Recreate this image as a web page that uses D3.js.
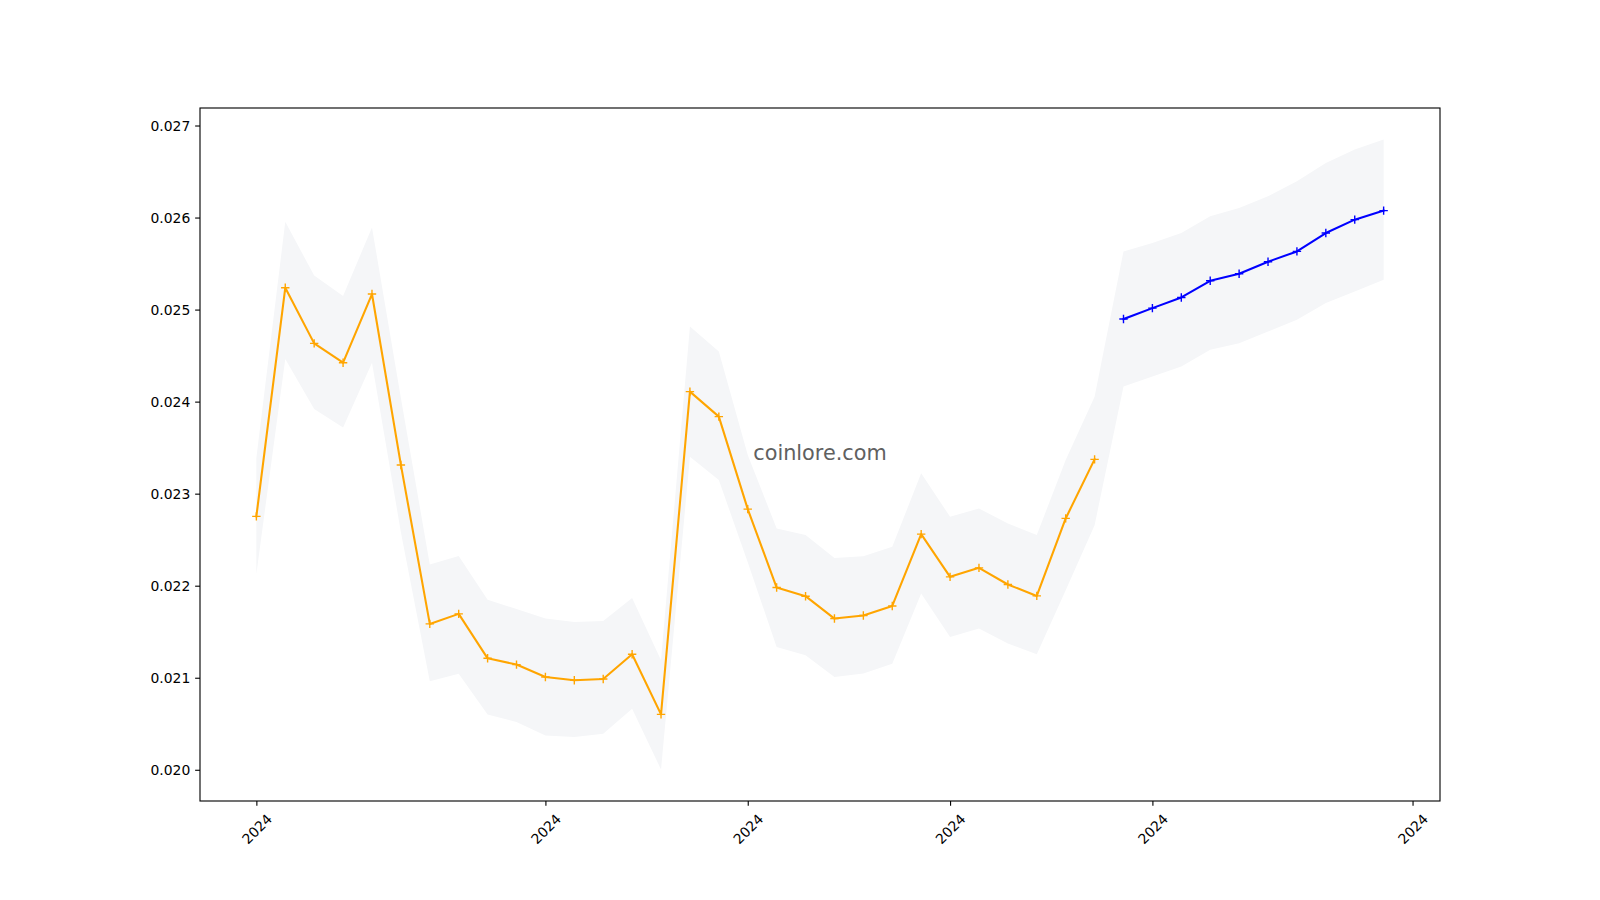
<!DOCTYPE html>
<html>
<head>
<meta charset="utf-8">
<script src="https://cdn.jsdelivr.net/npm/d3@7"></script>
<style>
  html, body { margin: 0; padding: 0; background: #ffffff; }
  svg { display: block; }
  text { font-family: "DejaVu Sans", sans-serif; }
</style>
</head>
<body>
<svg id="chart" width="1600" height="900"></svg>
<script>
// ---------- data ----------
const dates = [
  "2024-03-22","2024-03-23","2024-03-24","2024-03-25","2024-03-26","2024-03-27","2024-03-28","2024-03-29","2024-03-30","2024-03-31",
  "2024-04-01","2024-04-02","2024-04-03","2024-04-04","2024-04-05","2024-04-06","2024-04-07","2024-04-08","2024-04-09","2024-04-10",
  "2024-04-11","2024-04-12","2024-04-13","2024-04-14","2024-04-15","2024-04-16","2024-04-17","2024-04-18","2024-04-19","2024-04-20",
  "2024-04-21","2024-04-22","2024-04-23","2024-04-24","2024-04-25","2024-04-26","2024-04-27","2024-04-28","2024-04-29","2024-04-30"
];
// historical (orange) – first 30 dates
const history = [
  0.022753, 0.025237, 0.024633, 0.024423, 0.025169, 0.023312, 0.021585, 0.021694, 0.021211, 0.021143,
  0.021008, 0.020972, 0.020986, 0.021255, 0.020602, 0.024109, 0.023837, 0.022832, 0.021980, 0.021886,
  0.021643, 0.021676, 0.021780, 0.022560, 0.022096, 0.022194, 0.022013, 0.021889, 0.022731, 0.023373
];
// forecast (blue) – last 10 dates
const forecast = [
  0.024897, 0.025016, 0.025132, 0.025313, 0.025390, 0.025520, 0.025632, 0.025832, 0.025977, 0.026075
];
// confidence band over all 40 dates
const bandUpper = [
  0.023387, 0.025953, 0.025370, 0.025148, 0.025893, 0.024040, 0.022230, 0.022322, 0.021847, 0.021746,
  0.021643, 0.021606, 0.021617, 0.021867, 0.021189, 0.024816, 0.024544, 0.023420, 0.022622, 0.022550,
  0.022302, 0.022321, 0.022422, 0.023221, 0.022749, 0.022840, 0.022677, 0.022550, 0.023366, 0.024054,
  0.025632, 0.025724, 0.025832, 0.026013, 0.026104, 0.026231, 0.026394, 0.026594, 0.026739, 0.026848
];
const bandLower = [
  0.022128, 0.024464, 0.023921, 0.023719, 0.024423, 0.022582, 0.020961, 0.021042, 0.020600, 0.020519,
  0.020373, 0.020355, 0.020392, 0.020664, 0.020003, 0.023402, 0.023148, 0.022256, 0.021334, 0.021244,
  0.021008, 0.021045, 0.021153, 0.021915, 0.021443, 0.021534, 0.021371, 0.021255, 0.021951, 0.022658,
  0.024163, 0.024272, 0.024381, 0.024563, 0.024635, 0.024762, 0.024889, 0.025071, 0.025197, 0.025324
];
const xTickDates = ["2024-03-22","2024-04-01","2024-04-08","2024-04-15","2024-04-22","2024-05-01"];
const yTicks = [0.020, 0.021, 0.022, 0.023, 0.024, 0.025, 0.026, 0.027];
const watermark = "coinlore.com";

// ---------- layout ----------
const plotLeft = 200, plotRight = 1440, plotTop = 108, plotBottom = 801;

const parse = d3.utcParse("%Y-%m-%d");
const xs = dates.map(parse);
const histData = history.map((v, i) => ({ x: xs[i], y: v }));
const foreData = forecast.map((v, i) => ({ x: xs[history.length + i], y: v }));
const bandData = xs.map((d, i) => ({ x: d, lo: bandLower[i], hi: bandUpper[i] }));

// matplotlib-style 5% margins
const xExt = d3.extent(xs, d => +d);
const xPad = (xExt[1] - xExt[0]) * 0.05;
const x = d3.scaleUtc()
  .domain([new Date(xExt[0] - xPad), new Date(xExt[1] + xPad)])
  .range([plotLeft, plotRight]);

const yMin = d3.min([...bandLower, ...history, ...forecast]);
const yMax = d3.max([...bandUpper, ...history, ...forecast]);
const yPad = (yMax - yMin) * 0.05;
const y = d3.scaleLinear()
  .domain([yMin - yPad, yMax + yPad])
  .range([plotBottom, plotTop]);

const svg = d3.select("#chart");

// band
svg.append("path")
  .datum(bandData)
  .attr("fill", "#f5f6f8")
  .attr("d", d3.area().x(d => x(d.x)).y0(d => y(d.lo)).y1(d => y(d.hi)));

// watermark
svg.append("text")
  .attr("x", (plotLeft + plotRight) / 2)
  .attr("y", (plotTop + plotBottom) / 2 - 2)
  .attr("text-anchor", "middle")
  .attr("dominant-baseline", "central")
  .attr("font-size", "20.8px")
  .attr("fill", "#606060")
  .text(watermark);

// lines
const line = d3.line().x(d => x(d.x)).y(d => y(d.y));
function drawSeries(data, color) {
  svg.append("path")
    .datum(data)
    .attr("fill", "none")
    .attr("stroke", color)
    .attr("stroke-width", 2.08)
    .attr("stroke-linejoin", "round")
    .attr("stroke-linecap", "square")
    .attr("d", line);
  const m = 4.2;
  const g = svg.append("g");
  data.forEach(d => {
    const cx = x(d.x), cy = y(d.y);
    g.append("path")
      .attr("d", `M${cx - m},${cy}H${cx + m}M${cx},${cy - m}V${cy + m}`)
      .attr("stroke", color)
      .attr("stroke-width", 1.39)
      .attr("fill", "none");
  });
}
drawSeries(histData, "#ffa500");
drawSeries(foreData, "#0000ff");

// axes
const xAxis = d3.axisBottom(x)
  .tickValues(xTickDates.map(parse))
  .tickFormat(d3.utcFormat("%Y"))
  .tickSizeInner(4.86).tickSizeOuter(0).tickPadding(4.86);
const gx = svg.append("g").attr("transform", `translate(0,${plotBottom})`).call(xAxis);
gx.select(".domain").remove();
gx.selectAll(".tick line").attr("stroke", "#000").attr("stroke-width", 1.11);
gx.selectAll(".tick text")
  .attr("font-size", "13.9px")
  .attr("fill", "#000")
  .attr("font-family", "DejaVu Sans, sans-serif")
  .attr("y", 0).attr("dy", null)
  .attr("text-anchor", "middle")
  .attr("dominant-baseline", "central")
  .attr("transform", "translate(0,28) rotate(-45)");

const yAxis = d3.axisLeft(y)
  .tickValues(yTicks)
  .tickFormat(d3.format(".3f"))
  .tickSizeInner(4.86).tickSizeOuter(0).tickPadding(4.86);
const gy = svg.append("g").attr("transform", `translate(${plotLeft},0)`).call(yAxis);
gy.select(".domain").remove();
gy.selectAll(".tick line").attr("stroke", "#000").attr("stroke-width", 1.11);
gy.selectAll(".tick text")
  .attr("font-size", "13.9px")
  .attr("fill", "#000")
  .attr("font-family", "DejaVu Sans, sans-serif")
  .attr("dy", null)
  .attr("dominant-baseline", "central");

// frame
svg.append("rect")
  .attr("x", plotLeft).attr("y", plotTop)
  .attr("width", plotRight - plotLeft).attr("height", plotBottom - plotTop)
  .attr("fill", "none")
  .attr("stroke", "#000")
  .attr("stroke-width", 1.11);
</script>
</body>
</html>
